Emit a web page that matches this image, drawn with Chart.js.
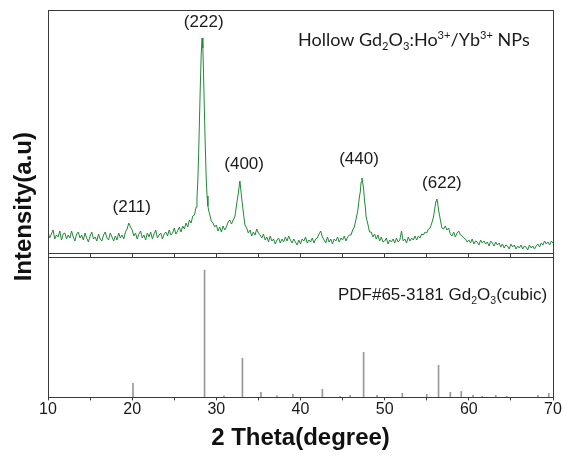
<!DOCTYPE html>
<html>
<head>
<meta charset="utf-8">
<script src="https://cdn.jsdelivr.net/npm/chart.js@4.4.1/dist/chart.umd.min.js"></script>
<style>
  html, body { margin: 0; padding: 0; background: #fff; }
  #wrap { position: relative; width: 563px; height: 456px; }
  #wrap canvas { position: absolute; left: 0; top: 0; }
</style>
</head>
<body>
<div id="wrap">
  <canvas id="patternChart" width="563" height="456"></canvas>
  <canvas id="refChart" width="563" height="456"></canvas>
</div>
<script>
// measured XRD pattern (2theta in degrees, intensity in a.u.)
const patternTheta = [
  10.0, 10.2, 10.4, 10.6, 10.8, 11.0, 11.2, 11.4, 11.6, 11.8,
  12.0, 12.2, 12.4, 12.6, 12.8, 13.0, 13.2, 13.4, 13.6, 13.8,
  14.0, 14.2, 14.4, 14.6, 14.8, 15.0, 15.2, 15.4, 15.6, 15.8,
  16.0, 16.2, 16.4, 16.6, 16.8, 17.0, 17.2, 17.4, 17.6, 17.8,
  18.0, 18.2, 18.4, 18.6, 18.8, 19.0, 19.2, 19.4, 19.6, 19.8,
  20.0, 20.2, 20.4, 20.6, 20.8, 21.0, 21.2, 21.4, 21.6, 21.8,
  22.0, 22.2, 22.4, 22.6, 22.8, 23.0, 23.2, 23.4, 23.6, 23.8,
  24.0, 24.2, 24.4, 24.6, 24.8, 25.0, 25.2, 25.4, 25.6, 25.8,
  26.0, 26.2, 26.4, 26.6, 26.8, 27.0, 27.2, 27.4,
  27.5, 27.6, 27.7, 27.8, 27.9, 28.0, 28.1, 28.2, 28.3, 28.4,
  28.5, 28.6, 28.7, 28.8, 28.9, 29.0, 29.1,
  29.2, 29.4, 29.6, 29.8,
  30.0, 30.2, 30.4, 30.6, 30.8, 31.0, 31.2, 31.4, 31.6, 31.8,
  32.0, 32.2, 32.4, 32.6, 32.8, 33.0, 33.2, 33.4, 33.6, 33.8,
  34.0, 34.2, 34.4, 34.6, 34.8, 35.0, 35.2, 35.4, 35.6, 35.8,
  36.0, 36.2, 36.4, 36.6, 36.8, 37.0, 37.2, 37.4, 37.6, 37.8,
  38.0, 38.2, 38.4, 38.6, 38.8, 39.0, 39.2, 39.4, 39.6, 39.8,
  40.0, 40.2, 40.4, 40.6, 40.8, 41.0, 41.2, 41.4, 41.6, 41.8,
  42.0, 42.2, 42.4, 42.6, 42.8, 43.0, 43.2, 43.4, 43.6, 43.8,
  44.0, 44.2, 44.4, 44.6, 44.8, 45.0, 45.2, 45.4, 45.6, 45.8,
  46.0, 46.2, 46.4, 46.6, 46.8, 47.0, 47.1, 47.2, 47.3, 47.4,
  47.5, 47.6, 47.7, 47.8,
  48.0, 48.2, 48.4, 48.6, 48.8, 49.0, 49.2, 49.4, 49.6, 49.8,
  50.0, 50.2, 50.4, 50.6, 50.8, 51.0, 51.2, 51.4, 51.6, 51.8,
  52.0, 52.2, 52.4, 52.6, 52.8, 53.0, 53.2, 53.4, 53.6, 53.8,
  54.0, 54.2, 54.4, 54.6, 54.8, 55.0, 55.2, 55.4, 55.6, 55.8,
  56.0, 56.1, 56.2, 56.3, 56.4, 56.6, 56.8, 57.0, 57.2, 57.4,
  57.6, 57.8,
  58.0, 58.2, 58.4, 58.6, 58.8, 59.0, 59.2, 59.4, 59.6, 59.8,
  60.0, 60.2, 60.4, 60.6, 60.8, 61.0, 61.2, 61.4, 61.6, 61.8,
  62.0, 62.2, 62.4, 62.6, 62.8, 63.0, 63.2, 63.4, 63.6, 63.8,
  64.0, 64.2, 64.4, 64.6, 64.8, 65.0, 65.2, 65.4, 65.6, 65.8,
  66.0, 66.2, 66.4, 66.6, 66.8, 67.0, 67.2, 67.4, 67.6, 67.8,
  68.0, 68.2, 68.4, 68.6, 68.8, 69.0, 69.2, 69.4, 69.6, 69.8,
  70.0
];
const patternCounts = [
  21, 15, 19, 23, 14, 18, 16, 22, 13, 19,
  20, 14, 18, 15, 22, 16, 12, 19, 21, 15,
  18, 13, 20, 15, 11, 17, 21, 14, 16, 12,
  19, 14, 12, 18, 21, 15, 13, 20, 16, 12,
  17, 13, 20, 15, 18, 14, 21, 24, 30, 26,
  23, 17, 20, 14, 19, 22, 15, 18, 13, 20,
  16, 21, 14, 19, 23, 15, 18, 20, 14, 19,
  21, 17, 23, 18, 20, 25, 19, 22, 26, 21,
  27, 24, 30, 26, 33, 30, 37, 38,
  42, 46, 55, 72, 100, 135, 168, 198, 215, 205,
  172, 135, 102, 74, 57, 47, 42,
  39, 32, 30, 26,
  28, 22, 26, 21, 27, 23, 26, 31, 33, 29,
  33, 36, 48, 59, 72, 56, 41, 28, 25, 20,
  23, 17, 21, 18, 24, 20, 18, 15, 19, 13,
  16, 11, 17, 12, 14, 9, 13, 15, 10, 14,
  11, 16, 12, 17, 13, 10, 14, 11, 8, 13,
  9, 14, 12, 16, 10, 13, 11, 15, 10, 14,
  15, 19, 22, 16, 13, 10, 16, 11, 14, 9,
  14, 12, 16, 11, 15, 13, 17, 12, 16, 18,
  18, 23, 26, 34, 42, 56, 61, 71, 75, 70,
  64, 53, 46, 36,
  29, 21, 21, 16, 19, 14, 18, 12, 16, 11,
  12, 15, 9, 13, 11, 14, 10, 15, 11, 13,
  22, 12, 14, 10, 16, 12, 15, 13, 17, 13,
  17, 15, 19, 18, 21, 20, 24, 25, 30, 36,
  47, 52, 54, 50, 43, 34, 25, 24, 27, 23,
  25, 19,
  17, 21, 16, 20, 22, 18, 17, 15, 14, 11,
  13, 10, 14, 9, 12, 11, 8, 13, 10, 12,
  9, 11, 7, 12, 10, 7, 11, 8, 10, 6,
  9, 5, 8, 7, 4, 9, 6, 8, 4, 7,
  5, 8, 4, 7, 6, 3, 8, 5, 7, 4,
  7, 9, 6, 10, 8, 12, 9, 11, 8, 12,
  10
];

// PDF#65-3181 reference lines
const stickTheta = [20.1, 28.6, 30.9, 33.1, 35.3, 37.2, 39.1, 42.6, 44.7, 45.9, 47.5, 49.1, 52.1, 55.0, 56.4, 57.8, 59.1, 60.5, 61.6, 63.2, 64.5, 68.2, 69.5];
const stickHeight = [14, 127, 1.5, 39, 5, 1.5, 3, 8, 1, 2, 45, 2, 4, 3, 32, 5, 6, 2, 1, 2, 1, 2, 4];

// peak indexing labels
const peakNames = ['(211)', '(222)', '(400)', '(440)', '(622)'];
const peakTheta = [19.95, 28.5, 33.3, 46.95, 56.8];
const peakLevel = [46, 231, 89, 94, 70];

const xTicks = [10, 20, 30, 40, 50, 60, 70];

const sans = '"Liberation Sans", Arial, sans-serif';
const frameColor = '#3a3a3a';

function drawRich(ctx, parts, x, y, size, family) {
  let cx = x;
  ctx.textBaseline = 'alphabetic';
  ctx.textAlign = 'left';
  for (const [txt, kind] of parts) {
    const s = kind === 'n' ? size : size * 0.62;
    const dy = kind === 'sub' ? size * 0.22 : kind === 'sup' ? -size * 0.38 : 0;
    ctx.font = s + 'px ' + family;
    ctx.fillText(txt, cx, y + dy);
    cx += ctx.measureText(txt).width;
  }
}

const framePlugin = {
  id: 'frame',
  afterDatasetsDraw(chart) {
    const { ctx, chartArea: a } = chart;
    ctx.save();
    ctx.strokeStyle = frameColor;
    ctx.lineWidth = 1;
    const l = Math.round(a.left) + 0.5, t = Math.round(a.top) + 0.5;
    const r = Math.round(a.right) + 0.5, b = Math.round(a.bottom) + 0.5;
    ctx.strokeRect(l, t, r - l, b - t);
    ctx.restore();
  }
};

const patternText = {
  id: 'patternText',
  afterDraw(chart) {
    const { ctx, scales: { x, y } } = chart;
    ctx.save();
    ctx.fillStyle = '#1a1a1a';
    ctx.font = '17px ' + sans;
    ctx.textAlign = 'center';
    ctx.textBaseline = 'middle';
    peakNames.forEach((n, i) => {
      ctx.fillText(n, x.getPixelForValue(peakTheta[i]), y.getPixelForValue(peakLevel[i]));
    });
    drawRich(ctx, [['Hollow Gd', 'n'], ['2', 'sub'], ['O', 'n'], ['3', 'sub'], [':Ho', 'n'], ['3+', 'sup'],
      ['/Yb', 'n'], ['3+', 'sup'], [' NPs', 'n']],
      x.getPixelForValue(39.7), y.getPixelForValue(207), 18, 'Lato, "Open Sans", sans-serif');
    ctx.restore();
  }
};

let topArea = null;

const refText = {
  id: 'refText',
  afterDraw(chart) {
    const { ctx, chartArea: a, scales: { x, y } } = chart;
    ctx.save();
    ctx.fillStyle = '#1a1a1a';
    drawRich(ctx, [['PDF#65-3181 Gd', 'n'], ['2', 'sub'], ['O', 'n'], ['3', 'sub'], ['(cubic)', 'n']],
      x.getPixelForValue(44.45), y.getPixelForValue(97), 17, sans);
    // shared y axis title for both panels
    const top = topArea ? topArea.top : 10;
    ctx.translate(a.left - 24, (top + a.bottom) / 2 + 3);
    ctx.rotate(-Math.PI / 2);
    ctx.font = 'bold 24px ' + sans;
    ctx.textAlign = 'center';
    ctx.textBaseline = 'middle';
    ctx.fillStyle = '#111';
    ctx.fillText('Intensity(a.u)', 0, 0);
    ctx.restore();
  }
};

const patternChart = new Chart(document.getElementById('patternChart'), {
  type: 'line',
  data: {
    datasets: [{
      data: patternTheta.map((t, i) => ({ x: t, y: patternCounts[i] })),
      borderColor: '#22893a',
      borderWidth: 1,
      pointRadius: 0,
      tension: 0,
      fill: false
    }]
  },
  options: {
    responsive: false,
    animation: false,
    layout: { padding: { top: 10, left: 48, right: 10, bottom: 199 } },
    plugins: { legend: { display: false }, tooltip: { enabled: false } },
    scales: {
      x: {
        type: 'linear', min: 10, max: 70,
        border: { display: false },
        grid: { drawOnChartArea: false, drawTicks: true, tickLength: 4, color: frameColor },
        ticks: { display: false, stepSize: 5 }
      },
      y: { display: false, min: 0, max: 243 }
    }
  },
  plugins: [framePlugin, patternText]
});
topArea = patternChart.chartArea;

const refChart = new Chart(document.getElementById('refChart'), {
  type: 'bar',
  data: {
    datasets: [{
      data: stickTheta.map((t, i) => ({ x: t, y: stickHeight[i] })),
      backgroundColor: '#999999',
      borderWidth: 0,
      barThickness: 1
    }]
  },
  options: {
    responsive: false,
    animation: false,
    layout: { padding: { top: 257, left: 48, right: 10, bottom: 3.6 } },
    plugins: { legend: { display: false }, tooltip: { enabled: false } },
    scales: {
      x: {
        type: 'linear', min: 10, max: 70, offset: false,
        border: { display: false },
        grid: { offset: false, drawOnChartArea: false, drawTicks: true, tickLength: 3, color: frameColor },
        ticks: {
          stepSize: 5, autoSkip: false, maxRotation: 0, padding: 0,
          color: '#1a1a1a', font: { family: sans, size: 16 },
          callback: v => xTicks.includes(v) ? String(v) : ''
        },
        title: {
          display: true, text: '2 Theta(degree)', color: '#111',
          font: { family: sans, size: 24, weight: 'bold' },
          padding: { top: 4, bottom: 0 }
        }
      },
      y: { display: false, min: 0, max: 140 }
    }
  },
  plugins: [framePlugin, refText]
});
</script>
</body>
</html>
